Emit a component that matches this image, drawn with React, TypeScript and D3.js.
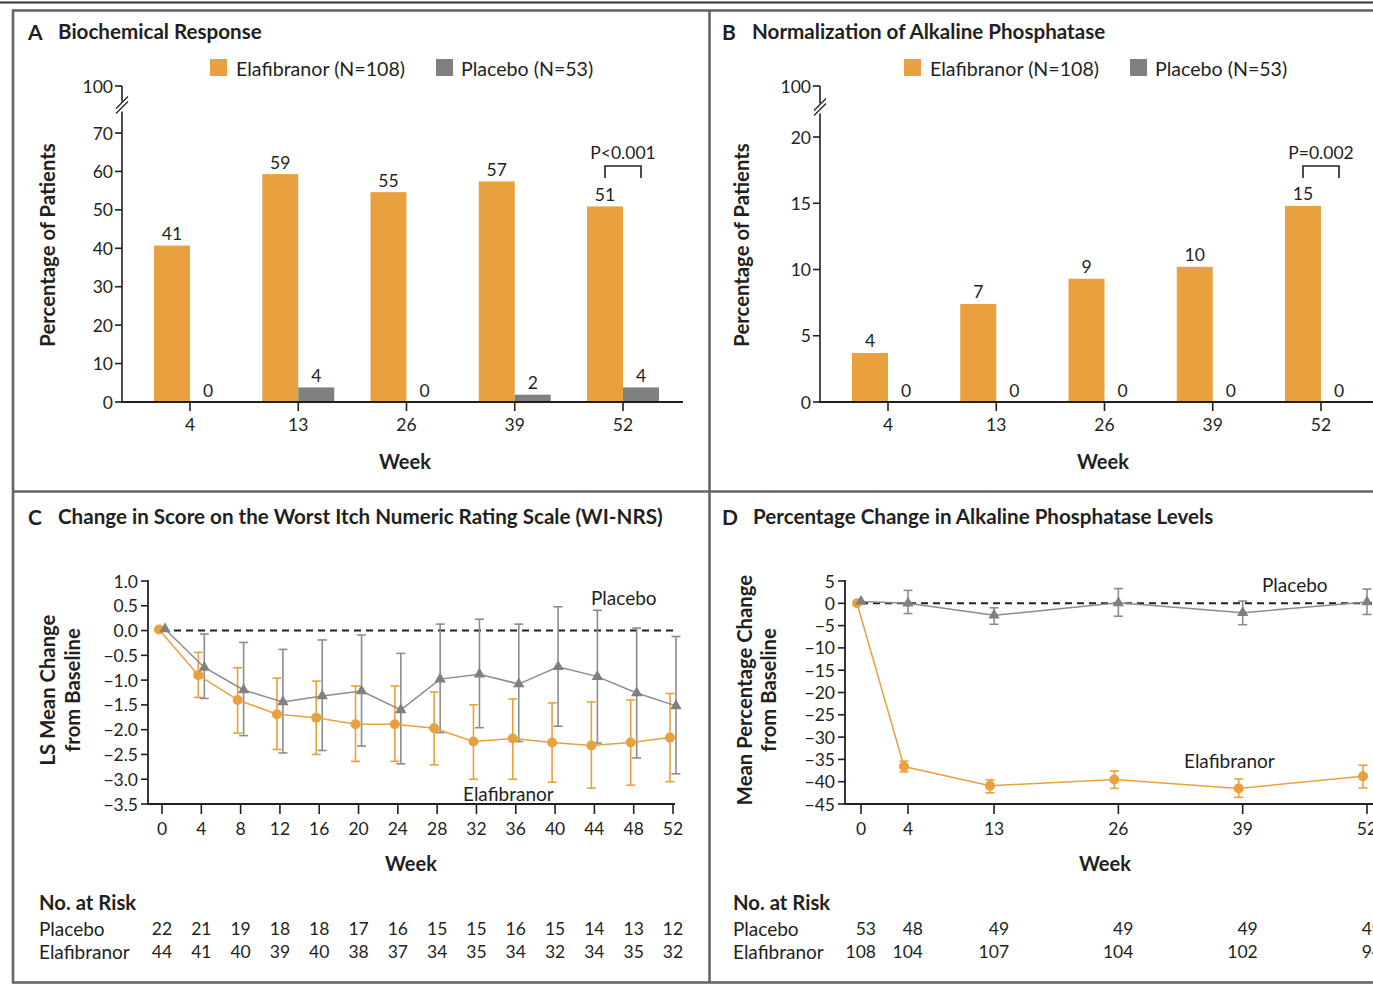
import React from 'react';
import * as d3 from 'd3';

// ---------- DATA ----------
const barWeeks = ['4', '13', '26', '39', '52'];
const responseElaf = [40.7, 59.3, 54.6, 57.4, 50.9];
const responsePlac = [0, 3.8, 0, 1.9, 3.8];
const responseElafLabels = ['41', '59', '55', '57', '51'];
const responsePlacLabels = ['0', '4', '0', '2', '4'];
const responseTicks = [0, 10, 20, 30, 40, 50, 60, 70, 100];

const alpNormElaf = [3.7, 7.4, 9.3, 10.2, 14.8];
const alpNormPlac = [0, 0, 0, 0, 0];
const alpNormElafLabels = ['4', '7', '9', '10', '15'];
const alpNormPlacLabels = ['0', '0', '0', '0', '0'];
const alpNormTicks = [0, 5, 10, 15, 20, 100];

const itchWeeks = [0, 4, 8, 12, 16, 20, 24, 28, 32, 36, 40, 44, 48, 52];
const itchPlac = [0.03, -0.745, -1.2, -1.44, -1.32, -1.22, -1.6, -0.98, -0.88, -1.08, -0.73, -0.93, -1.26, -1.52];
const itchPlacHi = [null, -0.07, -0.24, -0.38, -0.19, -0.09, -0.46, 0.13, 0.23, 0.13, 0.48, 0.41, 0.05, -0.12];
const itchPlacLo = [null, -1.37, -2.12, -2.47, -2.42, -2.33, -2.69, -2.06, -1.96, -2.24, -1.93, -2.27, -2.57, -2.89];
const itchElaf = [0.02, -0.9, -1.4, -1.69, -1.76, -1.89, -1.89, -1.97, -2.24, -2.18, -2.26, -2.32, -2.26, -2.16];
const itchElafHi = [null, -0.44, -0.75, -0.96, -1.02, -1.12, -1.12, -1.24, -1.5, -1.38, -1.46, -1.44, -1.4, -1.27];
const itchElafLo = [null, -1.35, -2.07, -2.4, -2.5, -2.64, -2.64, -2.71, -3.0, -3.0, -3.06, -3.18, -3.12, -3.05];
const itchTicks = [1.0, 0.5, 0.0, -0.5, -1.0, -1.5, -2.0, -2.5, -3.0, -3.5];
const itchRiskPlac = [22, 21, 19, 18, 18, 17, 16, 15, 15, 16, 15, 14, 13, 12];
const itchRiskElaf = [44, 41, 40, 39, 40, 38, 37, 34, 35, 34, 32, 34, 35, 32];

const alpWeeks = [0, 4, 13, 26, 39, 52];
const alpPlac = [0.4, 0.0, -2.7, 0.1, -2.1, 0.3];
const alpPlacHi = [null, 2.9, -1.0, 3.3, 0.5, 3.2];
const alpPlacLo = [null, -2.3, -4.7, -2.9, -4.8, -2.5];
const alpElaf = [0, -36.6, -40.9, -39.5, -41.5, -38.8];
const alpElafHi = [null, -35.4, -39.6, -37.6, -39.4, -36.3];
const alpElafLo = [null, -37.8, -42.5, -41.5, -43.5, -41.4];
const alpTicks = [5, 0, -5, -10, -15, -20, -25, -30, -35, -40, -45];
const alpRiskPlac = [53, 48, 49, 49, 49, 49];
const alpRiskElaf = [108, 104, 107, 104, 102, 94];

// ---------- STYLE ----------
const ORANGE = '#E8A13E';
const GRAY = '#808080';
const LINEGRAY = '#8c8c8c';
const INK = '#231f20';
const FONT = 'Lato, "Open Sans", sans-serif';
const TITLE = 20.6;
const LEG = 19.6;
const AXT = 20.3;
const TICK = 17.5;
const minus = (s: string) => s.replace('-', '\u2212');

function BarPanel(props: {
  x0: number; axisX: number; axisEnd: number; title: string; letter: string;
  elaf: number[]; plac: number[]; elafLabels: string[]; placLabels: string[];
  ticks: number[]; top: number; topY: number; pLabel: string;
}) {
  const { x0, axisX, axisEnd, title, letter, elaf, plac, elafLabels, placLabels, ticks, top, topY, pLabel } = props;
  const y = d3.scaleLinear().domain([0, top, 100]).range([402, topY, 86]);
  const x = d3.scalePoint<string>().domain(barWeeks).range([axisX + 68, axisX + 501]);
  const bw = 36;
  const breakY = (y(top) + y(100)) / 2 - 2;
  const lastX = x(barWeeks[barWeeks.length - 1])!;
  return (
    <g fontFamily={FONT} fill={INK}>
      <text x={x0 + 14} y={31} fontSize={21} fontWeight={700} dominantBaseline="central">{letter}</text>
      <text x={x0 + 44} y={31} fontSize={TITLE} fontWeight={700} dominantBaseline="central">{title}</text>
      {/* legend */}
      <rect x={x0 + 196} y={59} width={17} height={17} fill={ORANGE} />
      <text x={x0 + 222} y={68} fontSize={LEG} dominantBaseline="central">Elafibranor (N=108)</text>
      <rect x={x0 + 422} y={59} width={17} height={17} fill={GRAY} />
      <text x={x0 + 447} y={68} fontSize={LEG} dominantBaseline="central">Placebo (N=53)</text>
      {/* bars */}
      {barWeeks.map((w, i) => (
        <g key={w}>
          <rect x={x(w)! - bw} y={y(elaf[i])} width={bw} height={402 - y(elaf[i])} fill={ORANGE} />
          <rect x={x(w)!} y={y(plac[i])} width={bw} height={402 - y(plac[i])} fill={GRAY} />
          <text x={x(w)! - bw / 2} y={y(elaf[i]) - 12} fontSize={TICK} textAnchor="middle" dominantBaseline="central">{elafLabels[i]}</text>
          <text x={x(w)! + bw / 2} y={y(plac[i]) - 12} fontSize={TICK} textAnchor="middle" dominantBaseline="central">{placLabels[i]}</text>
        </g>
      ))}
      {/* y axis */}
      <line x1={axisX} x2={axisX} y1={y(100)} y2={breakY - 6} stroke={INK} strokeWidth={1.6} />
      <line x1={axisX} x2={axisX} y1={breakY + 4} y2={403} stroke={INK} strokeWidth={1.6} />
      <line x1={axisX - 6} x2={axisX + 6} y1={breakY + 1} y2={breakY - 11} stroke={INK} strokeWidth={1.3} />
      <line x1={axisX - 6} x2={axisX + 6} y1={breakY + 6} y2={breakY - 6} stroke={INK} strokeWidth={1.3} />
      {ticks.map((t) => (
        <g key={t}>
          <line x1={axisX - 7} x2={axisX} y1={y(t)} y2={y(t)} stroke={INK} strokeWidth={1.6} />
          <text x={axisX - 9} y={y(t)} fontSize={TICK} textAnchor="end" dominantBaseline="central">{t}</text>
        </g>
      ))}
      {/* x axis */}
      <line x1={axisX} x2={axisEnd} y1={402} y2={402} stroke={INK} strokeWidth={1.8} />
      {barWeeks.map((w) => (
        <g key={w}>
          <line x1={x(w)} x2={x(w)} y1={402} y2={411} stroke={INK} strokeWidth={1.6} />
          <text x={x(w)} y={424} fontSize={TICK} textAnchor="middle" dominantBaseline="central">{w}</text>
        </g>
      ))}
      <text x={axisX + 283} y={461} fontSize={20} fontWeight={700} textAnchor="middle" dominantBaseline="central">Week</text>
      <text transform={`translate(${x0 + 33},245) rotate(-90)`} fontSize={AXT} fontWeight={700} textAnchor="middle" dominantBaseline="central">Percentage of Patients</text>
      {/* p value bracket */}
      <text x={lastX} y={152} fontSize={TICK} textAnchor="middle" dominantBaseline="central">{pLabel}</text>
      <path d={`M${lastX - 18},178 V166 H${lastX + 18} V178`} fill="none" stroke={INK} strokeWidth={1.6} />
    </g>
  );
}

function ErrorBars(props: { xs: number[]; hi: (number | null)[]; lo: (number | null)[]; color: string; sx: (v: number) => number; sy: (v: number) => number; dx: number }) {
  const { xs, hi, lo, color, sx, sy, dx } = props;
  return (
    <g stroke={color} strokeWidth={1.6}>
      {xs.map((w, i) => {
        if (hi[i] == null || lo[i] == null) return null;
        const cx = sx(w) + dx;
        return (
          <g key={i}>
            <line x1={cx} x2={cx} y1={sy(hi[i] as number)} y2={sy(lo[i] as number)} />
            <line x1={cx - 4.5} x2={cx + 4.5} y1={sy(hi[i] as number)} y2={sy(hi[i] as number)} />
            <line x1={cx - 4.5} x2={cx + 4.5} y1={sy(lo[i] as number)} y2={sy(lo[i] as number)} />
          </g>
        );
      })}
    </g>
  );
}

function Triangles(props: { xs: number[]; ys: number[]; sx: (v: number) => number; sy: (v: number) => number; dx: number }) {
  const tri = d3.symbol().type(d3.symbolTriangle).size(56)()!;
  return (
    <g fill={GRAY}>
      {props.xs.map((w, i) => (
        <path key={i} d={tri} transform={`translate(${props.sx(w) + props.dx},${props.sy(props.ys[i])})`} />
      ))}
    </g>
  );
}

function Circles(props: { xs: number[]; ys: number[]; sx: (v: number) => number; sy: (v: number) => number; dx: number }) {
  return (
    <g fill={ORANGE}>
      {props.xs.map((w, i) => (
        <circle key={i} cx={props.sx(w) + props.dx} cy={props.sy(props.ys[i])} r={5} />
      ))}
    </g>
  );
}

function PanelC() {
  const sx = d3.scaleLinear().domain([0, 52]).range([162, 673]);
  const sy = d3.scaleLinear().domain([-3.5, 1.0]).range([804, 581]);
  const lineGen = (ys: number[], dx: number) =>
    d3.line<number>().x((_, i) => sx(itchWeeks[i]) + dx).y((v) => sy(v))(ys)!;
  return (
    <g fontFamily={FONT} fill={INK}>
      <text x={28} y={516} fontSize={21} fontWeight={700} dominantBaseline="central">C</text>
      <text x={58} y={516} fontSize={TITLE} fontWeight={700} dominantBaseline="central">Change in Score on the Worst Itch Numeric Rating Scale (WI-NRS)</text>
      <line x1={sx(0)} x2={sx(52)} y1={sy(0)} y2={sy(0)} stroke={INK} strokeWidth={1.9} strokeDasharray="7,5" />
      <ErrorBars xs={itchWeeks} hi={itchElafHi} lo={itchElafLo} color={ORANGE} sx={sx} sy={sy} dx={-3} />
      <ErrorBars xs={itchWeeks} hi={itchPlacHi} lo={itchPlacLo} color={LINEGRAY} sx={sx} sy={sy} dx={3} />
      <path d={lineGen(itchElaf, -3)} fill="none" stroke={ORANGE} strokeWidth={1.5} />
      <path d={lineGen(itchPlac, 3)} fill="none" stroke={LINEGRAY} strokeWidth={1.5} />
      <Circles xs={itchWeeks} ys={itchElaf} sx={sx} sy={sy} dx={-3} />
      <Triangles xs={itchWeeks} ys={itchPlac} sx={sx} sy={sy} dx={3} />
      {/* axes */}
      <line x1={148} x2={148} y1={580} y2={805} stroke={INK} strokeWidth={1.8} />
      {itchTicks.map((t) => (
        <g key={t}>
          <line x1={141} x2={148} y1={sy(t)} y2={sy(t)} stroke={INK} strokeWidth={1.6} />
          <text x={138} y={sy(t)} fontSize={TICK} textAnchor="end" dominantBaseline="central">{minus(t.toFixed(1))}</text>
        </g>
      ))}
      <line x1={148} x2={675} y1={804} y2={804} stroke={INK} strokeWidth={1.8} />
      {itchWeeks.map((w) => (
        <g key={w}>
          <line x1={sx(w)} x2={sx(w)} y1={804} y2={814} stroke={INK} strokeWidth={1.6} />
          <text x={sx(w)} y={828} fontSize={TICK} textAnchor="middle" dominantBaseline="central">{w}</text>
        </g>
      ))}
      <text x={591} y={597} fontSize={19} dominantBaseline="central">Placebo</text>
      <text x={463} y={793} fontSize={19} dominantBaseline="central">Elafibranor</text>
      <text x={411} y={863} fontSize={20} fontWeight={700} textAnchor="middle" dominantBaseline="central">Week</text>
      <text transform="translate(47,690) rotate(-90)" fontSize={AXT} fontWeight={700} textAnchor="middle" dominantBaseline="central">LS Mean Change</text>
      <text transform="translate(72,690) rotate(-90)" fontSize={AXT} fontWeight={700} textAnchor="middle" dominantBaseline="central">from Baseline</text>
      {/* risk table */}
      <text x={39} y={902} fontSize={20.3} fontWeight={700} dominantBaseline="central">No. at Risk</text>
      <text x={39} y={928} fontSize={19} dominantBaseline="central">Placebo</text>
      <text x={39} y={951} fontSize={19} dominantBaseline="central">Elafibranor</text>
      {itchWeeks.map((w, i) => (
        <g key={w}>
          <text x={sx(w)} y={928} fontSize={TICK} textAnchor="middle" dominantBaseline="central">{itchRiskPlac[i]}</text>
          <text x={sx(w)} y={951} fontSize={TICK} textAnchor="middle" dominantBaseline="central">{itchRiskElaf[i]}</text>
        </g>
      ))}
    </g>
  );
}

function PanelD() {
  const sx = d3.scaleLinear().domain([0, 4, 52]).range([861, 908, 1367]);
  const sy = d3.scaleLinear().domain([-45, 5]).range([804, 581]);
  const lineGen = (ys: number[], dx: number) =>
    d3.line<number>().x((_, i) => sx(alpWeeks[i]) + dx).y((v) => sy(v))(ys)!;
  return (
    <g fontFamily={FONT} fill={INK}>
      <text x={722} y={516} fontSize={21} fontWeight={700} dominantBaseline="central">D</text>
      <text x={753} y={516} fontSize={TITLE} fontWeight={700} dominantBaseline="central">Percentage Change in Alkaline Phosphatase Levels</text>
      <line x1={sx(0)} x2={1373} y1={sy(0)} y2={sy(0)} stroke={INK} strokeWidth={1.9} strokeDasharray="7,5" />
      <ErrorBars xs={alpWeeks} hi={alpElafHi} lo={alpElafLo} color={ORANGE} sx={sx} sy={sy} dx={-4} />
      <ErrorBars xs={alpWeeks} hi={alpPlacHi} lo={alpPlacLo} color={LINEGRAY} sx={sx} sy={sy} dx={0} />
      <path d={lineGen(alpElaf, -4)} fill="none" stroke={ORANGE} strokeWidth={1.5} />
      <path d={lineGen(alpPlac, 0)} fill="none" stroke={LINEGRAY} strokeWidth={1.5} />
      <Circles xs={alpWeeks} ys={alpElaf} sx={sx} sy={sy} dx={-4} />
      <Triangles xs={alpWeeks} ys={alpPlac} sx={sx} sy={sy} dx={0} />
      <line x1={845} x2={845} y1={580} y2={805} stroke={INK} strokeWidth={1.8} />
      {alpTicks.map((t) => (
        <g key={t}>
          <line x1={838} x2={845} y1={sy(t)} y2={sy(t)} stroke={INK} strokeWidth={1.6} />
          <text x={835} y={sy(t)} fontSize={TICK} textAnchor="end" dominantBaseline="central">{minus(String(t))}</text>
        </g>
      ))}
      <line x1={845} x2={1373} y1={804} y2={804} stroke={INK} strokeWidth={1.8} />
      {alpWeeks.map((w) => (
        <g key={w}>
          <line x1={sx(w)} x2={sx(w)} y1={804} y2={814} stroke={INK} strokeWidth={1.6} />
          <text x={sx(w)} y={828} fontSize={TICK} textAnchor="middle" dominantBaseline="central">{w}</text>
        </g>
      ))}
      <text x={1262} y={584} fontSize={19} dominantBaseline="central">Placebo</text>
      <text x={1184} y={760} fontSize={19} dominantBaseline="central">Elafibranor</text>
      <text x={1105} y={863} fontSize={20} fontWeight={700} textAnchor="middle" dominantBaseline="central">Week</text>
      <text transform="translate(744,690) rotate(-90)" fontSize={AXT} fontWeight={700} textAnchor="middle" dominantBaseline="central">Mean Percentage Change</text>
      <text transform="translate(768,690) rotate(-90)" fontSize={AXT} fontWeight={700} textAnchor="middle" dominantBaseline="central">from Baseline</text>
      <text x={733} y={902} fontSize={20.3} fontWeight={700} dominantBaseline="central">No. at Risk</text>
      <text x={733} y={928} fontSize={19} dominantBaseline="central">Placebo</text>
      <text x={733} y={951} fontSize={19} dominantBaseline="central">Elafibranor</text>
      {alpWeeks.map((w, i) => (
        <g key={w}>
          <text x={sx(w) + 15} y={928} fontSize={TICK} textAnchor="end" dominantBaseline="central">{alpRiskPlac[i]}</text>
          <text x={sx(w) + 15} y={951} fontSize={TICK} textAnchor="end" dominantBaseline="central">{alpRiskElaf[i]}</text>
        </g>
      ))}
    </g>
  );
}

export default function App() {
  return (
    <svg width={1373} height={986} style={{ position: 'absolute', left: 0, top: 0, background: '#fff' }}>
      <rect x={0} y={0} width={1373} height={986} fill="#fff" />
      <line x1={0} x2={1373} y1={2.5} y2={2.5} stroke="#333" strokeWidth={2} />
      <rect x={13} y={10.5} width={1400} height={972} fill="none" stroke="#666" strokeWidth={2.6} />
      <line x1={709.5} x2={709.5} y1={10} y2={983} stroke="#666" strokeWidth={2.6} />
      <line x1={13} x2={1373} y1={491.5} y2={491.5} stroke="#666" strokeWidth={2.6} />
      <BarPanel x0={14} axisX={122} axisEnd={683} title="Biochemical Response" letter="A"
        elaf={responseElaf} plac={responsePlac} elafLabels={responseElafLabels} placLabels={responsePlacLabels}
        ticks={responseTicks} top={70} topY={133} pLabel="P<0.001" />
      <BarPanel x0={708} axisX={820} axisEnd={1373} title="Normalization of Alkaline Phosphatase" letter="B"
        elaf={alpNormElaf} plac={alpNormPlac} elafLabels={alpNormElafLabels} placLabels={alpNormPlacLabels}
        ticks={alpNormTicks} top={20} topY={137} pLabel="P=0.002" />
      <PanelC />
      <PanelD />
    </svg>
  );
}
